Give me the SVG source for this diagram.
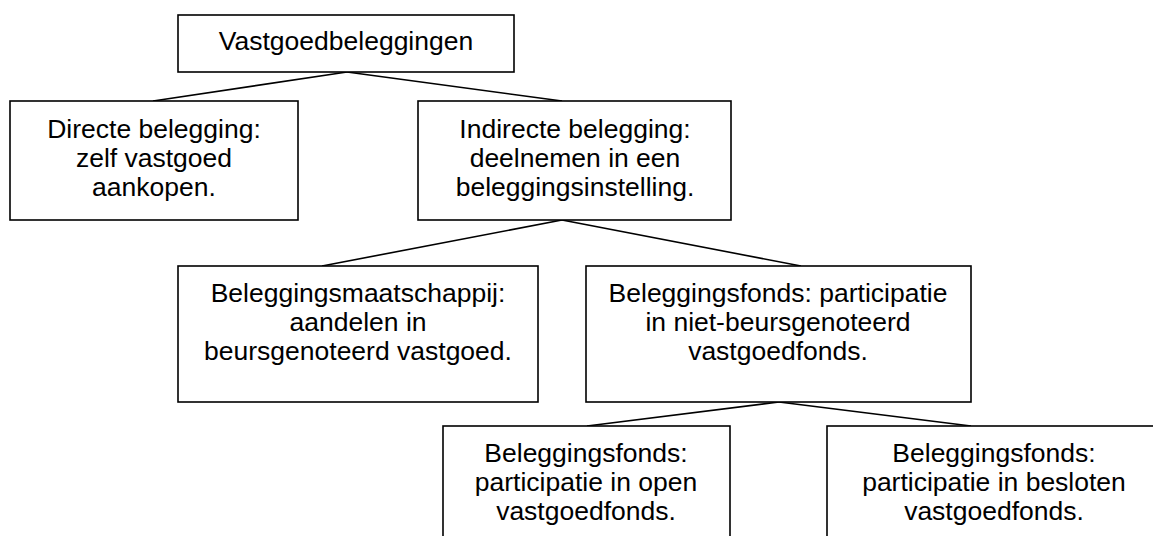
<svg xmlns="http://www.w3.org/2000/svg" width="1153" height="536" viewBox="0 0 1153 536">
<style>
.box{fill:#fff;stroke:#000;stroke-width:1.6}
.con line{stroke:#000;stroke-width:1.6}
text{font-family:"Liberation Sans",Arial,sans-serif;font-size:26.5px;fill:#000;text-anchor:middle}
</style>
<rect width="1153" height="536" fill="#fff"/>
<g id="connectors" class="con">
<line x1="347" y1="72" x2="153" y2="101"/>
<line x1="347" y1="72" x2="562" y2="101"/>
<line x1="562" y1="220" x2="322" y2="266"/>
<line x1="562" y1="220" x2="801" y2="266"/>
<line x1="779" y1="402" x2="587" y2="426"/>
<line x1="779" y1="402" x2="971" y2="426"/>
</g>
<g id="n0">
<rect class="box" x="178" y="15" width="336" height="57"/>
<text x="346" y="50">Vastgoedbeleggingen</text>
</g>
<g id="n1">
<rect class="box" x="10" y="101" width="288" height="119"/>
<text x="154" y="138">Directe belegging:</text>
<text x="154" y="167">zelf vastgoed</text>
<text x="154" y="196">aankopen.</text>
</g>
<g id="n2">
<rect class="box" x="418" y="101" width="313" height="119"/>
<text x="575" y="138">Indirecte belegging:</text>
<text x="575" y="167">deelnemen in een</text>
<text x="575" y="196">beleggingsinstelling.</text>
</g>
<g id="n3">
<rect class="box" x="178" y="266" width="360" height="136"/>
<text x="358" y="302">Beleggingsmaatschappij:</text>
<text x="358" y="331">aandelen in</text>
<text x="358" y="360">beursgenoteerd vastgoed.</text>
</g>
<g id="n4">
<rect class="box" x="586" y="266" width="385" height="136"/>
<text x="778" y="302">Beleggingsfonds: participatie</text>
<text x="778" y="331">in niet-beursgenoteerd</text>
<text x="778" y="360">vastgoedfonds.</text>
</g>
<g id="n5">
<rect class="box" x="443" y="426" width="287" height="130"/>
<text x="586" y="462">Beleggingsfonds:</text>
<text x="586" y="491">participatie in open</text>
<text x="586" y="520">vastgoedfonds.</text>
</g>
<g id="n6">
<rect class="box" x="827" y="426" width="334" height="130"/>
<text x="994" y="462">Beleggingsfonds:</text>
<text x="994" y="491">participatie in besloten</text>
<text x="994" y="520">vastgoedfonds.</text>
</g>
</svg>
